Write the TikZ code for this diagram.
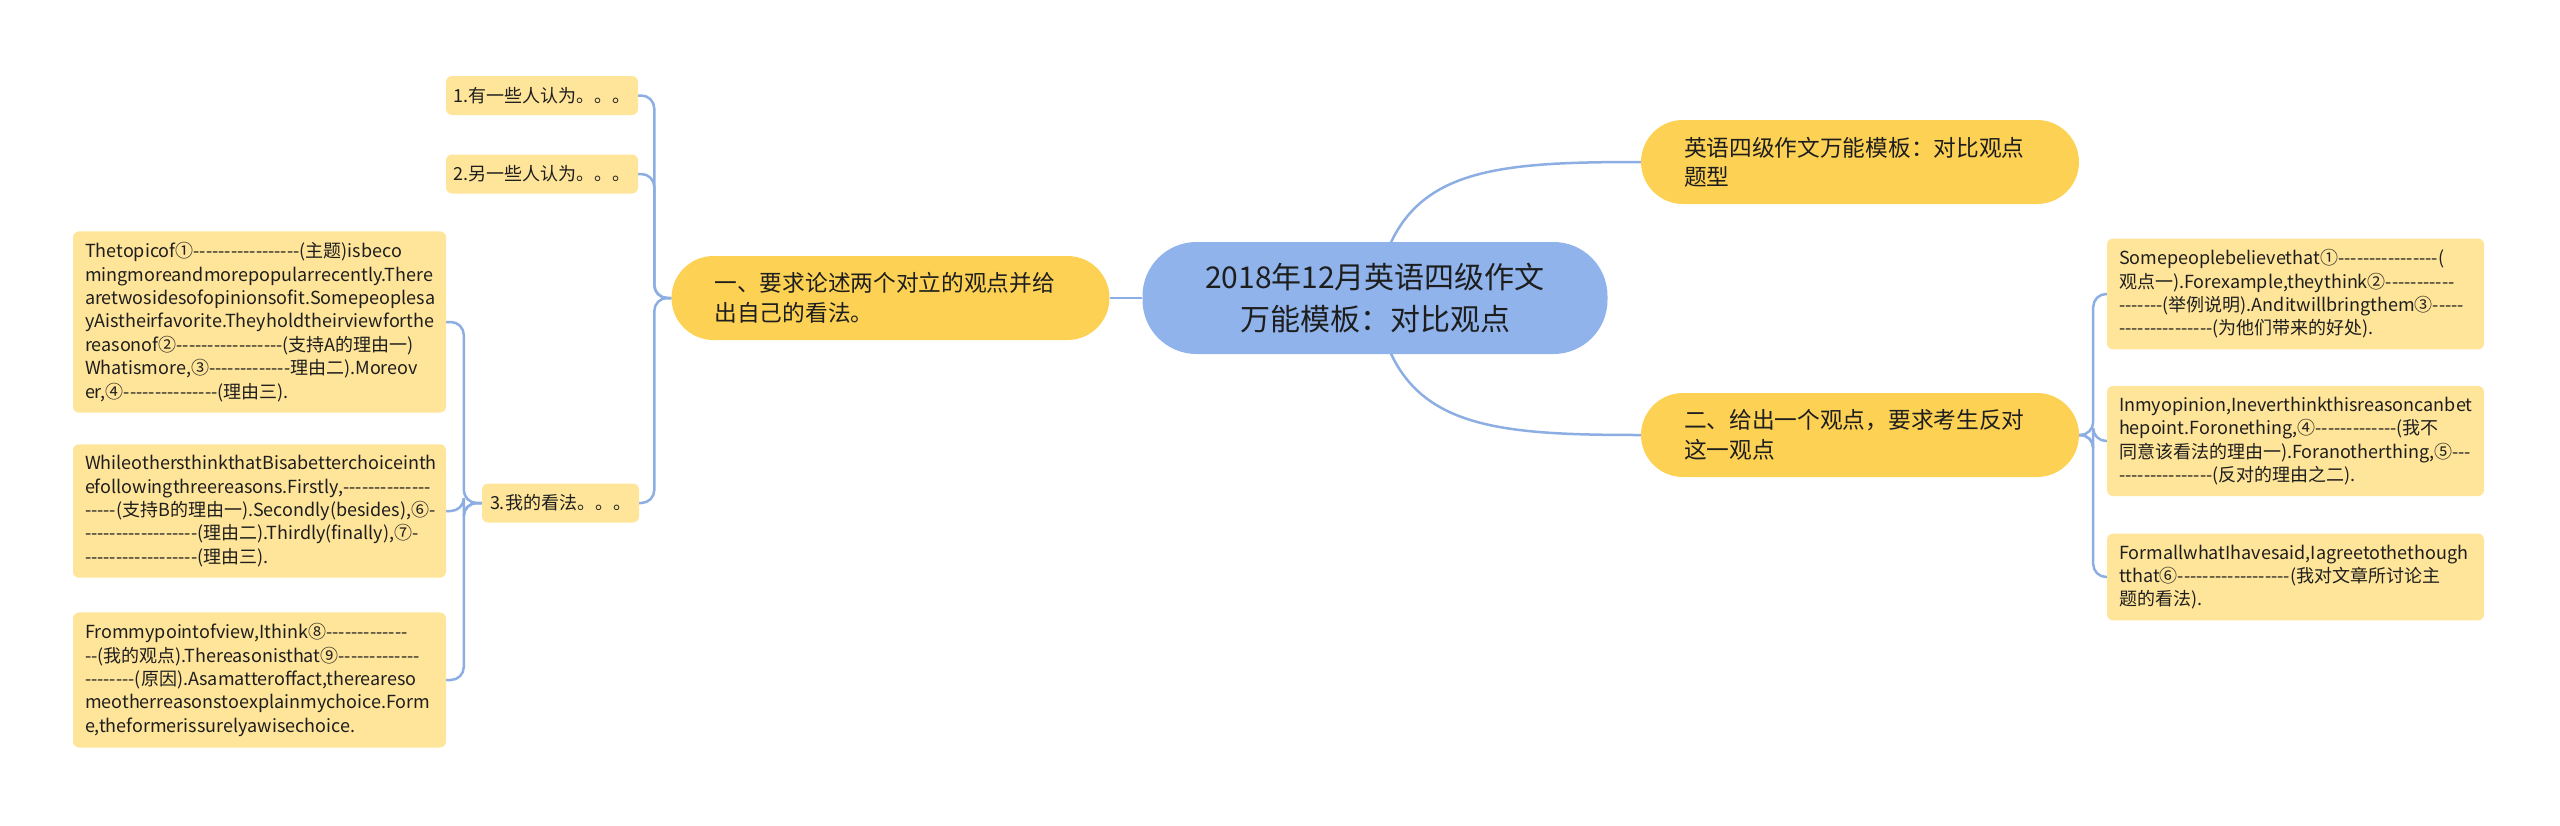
\documentclass[tikz,border=0pt]{standalone}
\usepackage{fontspec}
\newfontfamily\cjk{Noto Sans CJK SC}
\usetikzlibrary{calc}
\pgfdeclarelayer{bg}
\pgfsetlayers{bg,main}
\exhyphenpenalty=10000
\hyphenpenalty=10000
\definecolor{rootblue}{RGB}{143,179,234}
\definecolor{gold}{RGB}{253,210,84}
\definecolor{pale}{RGB}{255,229,153}
\definecolor{conn}{RGB}{140,174,226}
\definecolor{ink}{RGB}{30,30,30}
\begin{document}
\begin{tikzpicture}[x=1pt,y=-1pt,
  rootnode/.style={fill=rootblue, rounded corners=54pt, minimum width=465pt, minimum height=112pt,
    align=center, text=ink, font=\cjk\fontsize{30}{42}\selectfont, inner sep=0pt},
  topicnode/.style={fill=gold, rounded corners=42pt, minimum height=84pt, text width=352pt,
    inner xsep=43pt, inner ysep=0pt, align=left, text=ink, font=\cjk\fontsize{22.7}{29.4}\selectfont},
  smallnode/.style={fill=pale, rounded corners=6pt, minimum height=39pt, inner xsep=0pt, inner ysep=0pt,
    align=center, text=ink, font=\cjk\fontsize{18}{23.4}\selectfont},
  leafnode/.style={fill=pale, rounded corners=6pt, inner xsep=12pt, inner ysep=11pt,
    align=left, text=ink, font=\cjk\fontsize{18}{23.4}\selectfont},
  link/.style={draw=conn, line width=2.5pt},
  elbow/.style={link, rounded corners=13pt}]
\useasboundingbox (0,0) rectangle (2560,825);

\node[rootnode] (root) at (1375,298) {2018年12月英语四级作文\\万能模板：对比观点};
\node[topicnode] (left) at (890.5,298) {一、要求论述两个对立的观点并给\\出自己的看法。};
\node[topicnode] (rtop) at (1860,162) {英语四级作文万能模板：对比观点\\题型};
\node[topicnode] (rbot) at (1860,435) {二、给出一个观点，要求考生反对\\这一观点};

\node[smallnode, minimum width=192pt] (s1) at (542,95.5) {1.有一些人认为。。。};
\node[smallnode, minimum width=192pt] (s2) at (542,174) {2.另一些人认为。。。};
\node[smallnode, minimum width=157pt] (s3) at (560.5,503) {3.我的看法。。。};

\node[leafnode, text width=349pt] (la) at (259.5,322) {Thetopicof①-----------------(主题)isbeco\\mingmoreandmorepopularrecently.There\\aretwosidesofopinionsofit.Somepeoplesa\\yAistheirfavorite.Theyholdtheirviewforthe\\reasonof②-----------------(支持A的理由一)\\Whatismore,③-------------理由二).Moreov\\er,④---------------(理由三).};
\node[leafnode, text width=349pt] (lb) at (259.5,511) {WhileothersthinkthatBisabetterchoiceinth\\efollowingthreereasons.Firstly,--------------\\-----(支持B的理由一).Secondly(besides),⑥-\\------------------(理由二).Thirdly(finally),⑦-\\------------------(理由三).};
\node[leafnode, text width=349pt] (lc) at (259.5,680) {Frommypointofview,Ithink⑧-------------\\--(我的观点).Thereasonisthat⑨-------------\\--------(原因).Asamatteroffact,thereareso\\meotherreasonstoexplainmychoice.Form\\e,theformerissurelyawisechoice.};

\node[leafnode, text width=353pt] (r1) at (2295.5,294) {Somepeoplebelievethat①----------------(\\观点一).Forexample,theythink②-----------\\-------(举例说明).Anditwillbringthem③-----\\---------------(为他们带来的好处).};
\node[leafnode, text width=353pt] (r2) at (2295.5,441) {Inmyopinion,Ineverthinkthisreasoncanbet\\hepoint.Foronething,④-------------(我不\\同意该看法的理由一).Foranotherthing,⑤---\\---------------(反对的理由之二).};
\node[leafnode, text width=353pt] (r3) at (2295.5,577) {FormallwhatIhavesaid,Iagreetothethough\\tthat⑥------------------(我对文章所讨论主\\题的看法).};

\begin{pgfonlayer}{bg}
\draw[link] (root.center) .. controls (1395,170) and (1480,162) .. (rtop.west);
\draw[link] (root.center) .. controls (1395,426) and (1480,435) .. (rbot.west);
\draw[link] (root.west) -- (left.east);
\draw[elbow] (left.west) -- ++(-17,0) |- (s1.east);
\draw[elbow] (left.west) -- ++(-17,0) |- (s2.east);
\draw[elbow] (left.west) -- ++(-17,0) |- (s3.east);
\draw[elbow] (s3.west) -- ++(-18,0) |- (la.east);
\draw[elbow] (s3.west) -- ++(-18,0) |- (lb.east);
\draw[elbow] (s3.west) -- ++(-18,0) |- (lc.east);
\draw[elbow] (rbot.east) -- ++(14,0) |- (r1.west);
\draw[elbow] (rbot.east) -- ++(14,0) |- (r2.west);
\draw[elbow] (rbot.east) -- ++(14,0) |- (r3.west);
\end{pgfonlayer}
\end{tikzpicture}
\end{document}
